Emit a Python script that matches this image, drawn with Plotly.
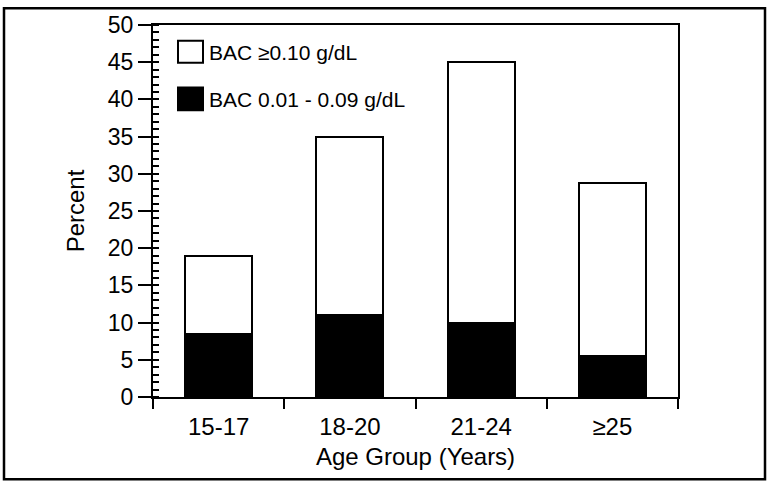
import plotly.graph_objects as go

categories = ["15-17", "18-20", "21-24", "≥25"]
bac_low = [8.5, 11.0, 10.0, 5.5]          # BAC 0.01 - 0.09 g/dL
bac_high = [10.5, 24.0, 35.0, 23.3]       # BAC >= 0.10 g/dL (stacked on top)
y_ticks = [0, 5, 10, 15, 20, 25, 30, 35, 40, 45, 50]
legend_labels = ["BAC ≥0.10 g/dL", "BAC 0.01 - 0.09 g/dL"]

FONT = "Liberation Sans, Arial, Helvetica, sans-serif"

fig = go.Figure()
fig.add_trace(go.Bar(x=categories, y=bac_low, name=legend_labels[1],
                     marker=dict(color="black", line=dict(color="black", width=2))))
fig.add_trace(go.Bar(x=categories, y=bac_high, name=legend_labels[0],
                     marker=dict(color="white", line=dict(color="black", width=2))))

W, H = 767, 483
L, R, T, B = 153, 89, 22, 86
pw, ph = W - L - R, H - T - B

def px(x):
    return (x - L) / pw

def py(y):
    return (H - B - y) / ph

shapes = [
    # outer frame
    dict(type="rect", xref="paper", yref="paper", x0=px(4), x1=px(765), y0=py(480), y1=py(5),
         line=dict(color="black", width=2.5), layer="below"),
    # legend swatches
    dict(type="rect", xref="paper", yref="paper", x0=px(178), x1=px(203), y0=py(60), y1=py(38),
         line=dict(color="black", width=2), fillcolor="white"),
    dict(type="rect", xref="paper", yref="paper", x0=px(178), x1=px(203), y0=py(108), y1=py(85),
         line=dict(color="black", width=2), fillcolor="black"),
]
annotations = [
    dict(text=legend_labels[0], xref="paper", yref="paper", x=px(207), y=py(50),
         xanchor="left", yanchor="middle", showarrow=False, font=dict(size=21, color="black", family=FONT)),
    dict(text=legend_labels[1], xref="paper", yref="paper", x=px(207), y=py(97),
         xanchor="left", yanchor="middle", showarrow=False, font=dict(size=21, color="black", family=FONT)),
]

fig.update_layout(
    width=W, height=H,
    margin=dict(l=L, r=R, t=T, b=B),
    paper_bgcolor="white", plot_bgcolor="white",
    barmode="stack", bargap=0.49,
    showlegend=False,
    font=dict(family=FONT, color="black", size=23),
    shapes=shapes, annotations=annotations,
)
fig.update_xaxes(
    categoryorder="array", categoryarray=categories,
    showline=True, linecolor="black", linewidth=2, mirror=True,
    ticks="outside", tickson="boundaries", ticklen=10, tickwidth=2, tickcolor="black",
    ticklabelstandoff=7,
    tickfont=dict(size=24, family=FONT, color="black"),
    showgrid=False, zeroline=False,
    title=dict(text="Age Group (Years)", font=dict(size=24, family=FONT, color="black"), standoff=9),
)
fig.update_yaxes(
    range=[0, 50], tickvals=y_ticks,
    showline=True, linecolor="black", linewidth=2, mirror=True,
    ticks="outside", ticklen=13, tickwidth=2, tickcolor="black",
    minor=dict(dtick=1, ticks="inside", ticklen=6, tickwidth=1.5, tickcolor="black", showgrid=False),
    tickfont=dict(size=23, family=FONT, color="black"),
    showgrid=False, zeroline=False,
    title=dict(text="Percent", font=dict(size=24, family=FONT, color="black"), standoff=16),
)

fig.write_html("out.html",
               config={"displayModeBar": False},
               post_script="document.body.style.margin='0';document.body.style.overflow='hidden';")
